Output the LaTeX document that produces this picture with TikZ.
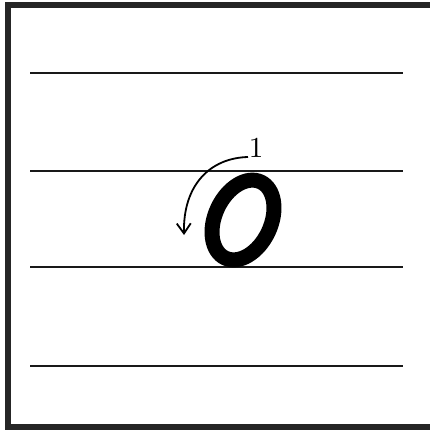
\documentclass[tikz,border=0pt]{standalone}
\usetikzlibrary{arrows.meta}
\begin{document}
\begin{tikzpicture}[x=1pt,y=-1pt,
  ruled/.style={line width=2.6pt,color=black!90},
  frameline/.style={line width=6pt,color=black!85},
  letter/.style={line width=15pt,color=black},
  guide/.style={line width=1.8pt,-{Straight Barb[length=10pt,width=14pt,line width=1.8pt]}}]
\useasboundingbox (0,0) rectangle (430,430);
\fill[white] (0,0) rectangle (430,430);
% frame (right side cut off)
\draw[frameline] (436,5) -- (8,5) -- (8,427) -- (436,427);
% ruled lines
\foreach \y/\n in {73/l1,171/l2,267/l3,366/l4}
  \draw[ruled] (30,\y) -- (403,\y);
% the letter O
\draw[letter] (243,220) ellipse [x radius=28, y radius=42, rotate=-25];
% stroke order number
\node[inner sep=0pt, scale=2.9, font=\fontsize{10}{12}\selectfont] (one) at (256,148) {1};
\coordinate (s) at (248,157);
\coordinate (e) at (184,235);
\draw[guide] (s) .. controls (210,158) and (183,185) .. (e);
\end{tikzpicture}
\end{document}
